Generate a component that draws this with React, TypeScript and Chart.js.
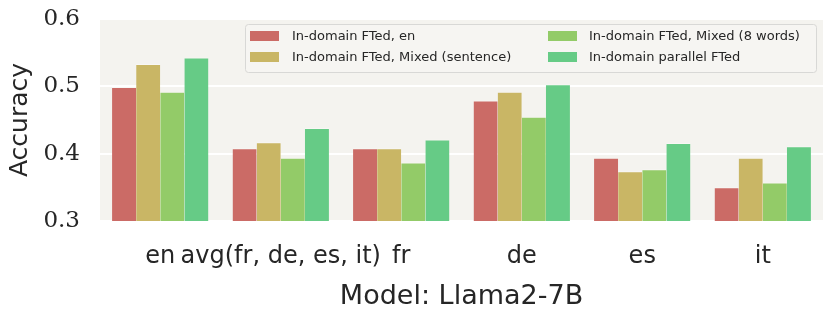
import React, { useEffect, useRef } from "react";
import { Chart, registerables } from "chart.js";

Chart.register(...registerables);

const categories = ["en", "avg(fr, de, es, it)", "fr", "de", "es", "it"];
const seriesLabels = [
  "In-domain FTed, en",
  "In-domain FTed, Mixed (sentence)",
  "In-domain FTed, Mixed (8 words)",
  "In-domain parallel FTed",
];
const ftedEn = [0.499, 0.408, 0.408, 0.479, 0.394, 0.35];
const mixedSentence = [0.533, 0.417, 0.408, 0.492, 0.374, 0.394];
const mixed8Words = [0.492, 0.394, 0.387, 0.455, 0.377, 0.357];
const parallelFted = [0.543, 0.438, 0.421, 0.503, 0.416, 0.411];
const yTicks = [0.3, 0.4, 0.5, 0.6];

const colors = ["#cb6b66", "#c9b665", "#93cb68", "#66cb86"];
const PLOT_BG = "#f4f3ef";

const bgPlugin = {
  id: "plotBg",
  beforeDraw(chart: any) {
    const { ctx, chartArea } = chart;
    ctx.save();
    ctx.fillStyle = PLOT_BG;
    ctx.fillRect(chartArea.left, chartArea.top, chartArea.right - chartArea.left, chartArea.bottom - chartArea.top);
    ctx.restore();
  },
};

const legendPlugin = {
  id: "customLegend",
  afterDatasetsDraw(chart: any) {
    const { ctx } = chart;
    const ds = chart.data.datasets;
    const x0 = 245;
    const y0 = 24;
    const w = 571;
    const h = 48;
    ctx.save();
    ctx.fillStyle = "rgba(246,245,242,0.9)";
    ctx.strokeStyle = "#d8d8d6";
    ctx.lineWidth = 1;
    ctx.beginPath();
    (ctx as any).roundRect(x0 + 0.5, y0 + 0.5, w, h, 3);
    ctx.fill();
    ctx.stroke();
    ctx.font = "13px 'DejaVu Sans'";
    ctx.textBaseline = "middle";
    [0, 1, 2, 3].forEach((i) => {
      const col = i < 2 ? 0 : 1;
      const row = i % 2;
      const sx = col === 0 ? 250 : 548;
      const tx = col === 0 ? 292 : 589;
      const cy = row === 0 ? 36 : 57;
      ctx.fillStyle = ds[i].backgroundColor;
      ctx.fillRect(sx, cy - 5, 29, 10);
      ctx.fillStyle = "#262626";
      ctx.fillText(ds[i].label, tx, cy + 1);
    });
    ctx.restore();
  },
};

export default function App() {
  const ref = useRef<HTMLCanvasElement | null>(null);
  useEffect(() => {
    if (!ref.current) return;
    const seriesData = [ftedEn, mixedSentence, mixed8Words, parallelFted];
    const chart = new Chart(ref.current, {
      type: "bar",
      data: {
        labels: categories,
        datasets: seriesData.map((d, i) => ({
          label: seriesLabels[i],
          data: d,
          backgroundColor: colors[i],
          borderColor: "rgba(255,255,255,0.35)",
          borderWidth: { top: 1, left: 0, right: 0, bottom: 0 },
          categoryPercentage: 0.8,
          barPercentage: 1.0,
        })),
      },
      options: {
        animation: false,
        responsive: true,
        maintainAspectRatio: false,
        layout: { padding: { left: 0, right: 7, top: 19, bottom: 0 } },
        plugins: {
          legend: { display: false },
          tooltip: { enabled: false },
        },
        scales: {
          x: {
            offset: true,
            grid: { display: false, drawTicks: false },
            border: { display: false },
            ticks: {
              autoSkip: false,
              maxRotation: 0,
              minRotation: 0,
              padding: 21,
              color: "#262626",
              font: { family: "'DejaVu Sans'", size: 24 },
            },
            title: {
              display: true,
              text: "Model: Llama2-7B",
              color: "#262626",
              font: { family: "'DejaVu Sans'", size: 27 },
              padding: { top: 0, bottom: 2 },
            },
            afterFit(scale: any) {
              scale.height = 94;
              scale.paddingLeft = 0;
              scale.paddingRight = 0;
            },
          },
          y: {
            min: 0.3,
            max: 0.6,
            afterBuildTicks(scale: any) {
              scale.ticks = yTicks.map((v) => ({ value: v }));
            },
            grid: { color: "#ffffff", lineWidth: 2, drawTicks: false },
            border: { display: false },
            ticks: {
              padding: 20,
              color: "#262626",
              font: { family: "'DejaVu Serif'", size: 23 },
              callback: (v: any) => Number(v).toFixed(1),
            },
            title: {
              display: true,
              text: "Accuracy",
              color: "#262626",
              font: { family: "'DejaVu Sans'", size: 25 },
              padding: { top: 5, bottom: 0 },
            },
            afterFit(scale: any) {
              scale.width = 100;
              scale.paddingTop = 0;
              scale.paddingBottom = 0;
            },
          },
        },
      },
      plugins: [bgPlugin, legendPlugin],
    });
    return () => chart.destroy();
  }, []);
  return (
    <div style={{ position: "absolute", left: 0, top: 0, width: 830, height: 315, background: "#ffffff" }}>
      <canvas ref={ref} />
    </div>
  );
}
